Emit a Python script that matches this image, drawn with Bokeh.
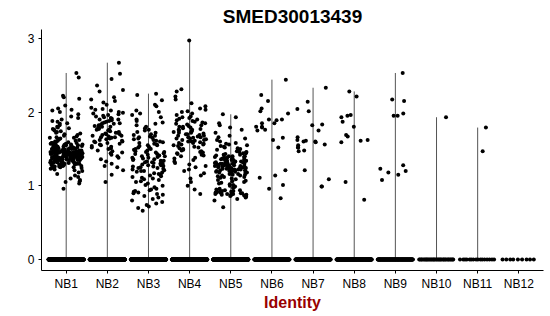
import math
from bokeh.plotting import figure
from bokeh.models import ColumnDataSource, Range1d, FixedTicker
from bokeh.embed import file_html
from bokeh.resources import INLINE

categories = ["NB1", "NB2", "NB3", "NB4", "NB5", "NB6", "NB7", "NB8", "NB9", "NB10", "NB11", "NB12"]
zero_counts = [420, 400, 380, 400, 420, 180, 160, 160, 120, 34, 16, 9]

nb1 = [2.53, 2.47, 2.22, 2.20, 2.18, 2.09, 2.05, 2.03, 2.02, 2.00, 1.97, 1.94, 1.92, 1.90, 1.88, 1.87,
       1.85, 1.84, 1.82, 1.80, 1.79, 1.78, 1.77, 1.76, 1.75, 1.74, 1.73, 1.72, 1.71, 1.70, 1.69,
       1.68, 1.67, 1.66, 1.65, 1.65, 1.64, 1.63, 1.63, 1.62, 1.61, 1.61, 1.60, 1.60, 1.59, 1.58, 1.58,
       1.57, 1.57, 1.56, 1.56, 1.55, 1.55, 1.54, 1.54, 1.53, 1.53, 1.53, 1.52, 1.52, 1.51, 1.51, 1.50,
       1.50, 1.50, 1.49, 1.49, 1.48, 1.48, 1.48, 1.47, 1.47, 1.46, 1.46, 1.46, 1.45, 1.45, 1.45, 1.44,
       1.44, 1.44, 1.43, 1.43, 1.43, 1.42, 1.42, 1.42, 1.41, 1.41, 1.41, 1.40, 1.40, 1.40, 1.39, 1.39,
       1.39, 1.38, 1.38, 1.38, 1.37, 1.37, 1.37, 1.36, 1.36, 1.36, 1.35, 1.35, 1.35, 1.34, 1.34, 1.34,
       1.33, 1.33, 1.32, 1.32, 1.32, 1.31, 1.31, 1.30, 1.30, 1.30, 1.29, 1.29, 1.28, 1.28, 1.27, 1.27,
       1.26, 1.26, 1.25, 1.25, 1.24, 1.24, 1.23, 1.22, 1.21, 1.20,
       1.30, 1.31, 1.33, 1.34, 1.35, 1.36, 1.37, 1.38, 1.39, 1.40, 1.41, 1.42, 1.43, 1.44, 1.45, 1.46,
       1.47, 1.48, 1.49, 1.50, 1.51, 1.52, 1.53, 1.54, 1.55, 1.56, 1.57, 1.58, 1.29, 1.31, 1.32, 1.34,
       1.35, 1.37, 1.38, 1.40, 1.41, 1.42, 1.43, 1.44, 1.45, 1.46, 1.47, 1.48, 1.50, 1.52, 1.54, 1.56,
       1.33, 1.36, 1.39, 1.41, 1.43, 1.45, 1.47, 1.49, 1.51, 1.53, 1.36, 1.38, 1.40, 1.42, 1.44, 1.46,
       1.39, 1.41, 1.43, 1.45,
       1.18, 1.16, 1.14, 1.12, 1.10, 1.08, 1.06, 1.05, 1.03, 0.96]
nb2 = [2.67, 2.52, 2.45, 2.36, 2.30, 2.28, 2.20, 2.17, 2.15, 2.13, 2.10, 2.06, 2.04, 2.03, 2.02, 2.00,
       1.99, 1.98, 1.97, 1.96, 1.95, 1.94, 1.93, 1.92, 1.91, 1.90, 1.90, 1.89, 1.88, 1.87, 1.86, 1.85,
       1.85, 1.84, 1.83, 1.82, 1.81, 1.80, 1.80, 1.79, 1.78, 1.77, 1.76, 1.76, 1.75, 1.74, 1.73, 1.72,
       1.72, 1.71, 1.70, 1.70, 1.69, 1.68, 1.68, 1.67, 1.66, 1.66, 1.65, 1.64, 1.63, 1.62, 1.61, 1.60,
       1.60, 1.59, 1.58, 1.57, 1.56, 1.55, 1.54, 1.53, 1.52, 1.51, 1.50, 1.48, 1.47, 1.45, 1.44, 1.42,
       1.40, 1.38, 1.36, 1.33, 1.30, 1.27, 1.25, 1.21, 1.15, 1.05]
nb3 = [2.25, 2.23, 2.16, 2.10, 2.08, 2.02, 2.00, 1.98, 1.96, 1.93, 1.90, 1.88, 1.86, 1.84, 1.82, 1.80,
       1.78, 1.76, 1.75, 1.73, 1.72, 1.70, 1.69, 1.68, 1.67, 1.66, 1.65, 1.64, 1.63, 1.62, 1.61, 1.60,
       1.59, 1.58, 1.57, 1.56, 1.55, 1.55, 1.54, 1.53, 1.52, 1.51, 1.50, 1.50, 1.49, 1.48, 1.47, 1.46,
       1.46, 1.45, 1.44, 1.43, 1.43, 1.42, 1.41, 1.40, 1.40, 1.39, 1.38, 1.38, 1.37, 1.36, 1.36, 1.35,
       1.34, 1.34, 1.33, 1.32, 1.32, 1.31, 1.30, 1.30, 1.29, 1.28, 1.28, 1.27, 1.26, 1.26, 1.25, 1.24,
       1.24, 1.23, 1.22, 1.21, 1.20, 1.20, 1.19, 1.18, 1.17, 1.16, 1.15, 1.14, 1.13, 1.12, 1.11, 1.10,
       1.09, 1.08, 1.06, 1.05, 1.03, 1.01, 1.00, 0.98, 0.96, 0.95, 0.94, 0.93, 0.92, 0.91, 0.90, 0.89,
       0.88, 0.86, 0.84, 0.82, 0.80, 0.78, 0.76, 0.74, 0.72, 0.70, 0.66]
nb4 = [2.97, 2.31, 2.28, 2.21, 2.17, 2.12, 2.08, 2.05, 2.03, 2.01, 2.00, 1.98, 1.96, 1.94, 1.93, 1.92,
       1.91, 1.90, 1.89, 1.88, 1.87, 1.86, 1.85, 1.84, 1.83, 1.82, 1.81, 1.80, 1.80, 1.79, 1.78, 1.77,
       1.76, 1.76, 1.75, 1.74, 1.73, 1.72, 1.72, 1.71, 1.70, 1.70, 1.69, 1.68, 1.68, 1.67, 1.66, 1.66,
       1.65, 1.64, 1.64, 1.63, 1.62, 1.62, 1.61, 1.60, 1.60, 1.59, 1.58, 1.58, 1.57, 1.56, 1.56, 1.55,
       1.54, 1.53, 1.52, 1.51, 1.50, 1.49, 1.48, 1.47, 1.46, 1.45, 1.44, 1.43, 1.42, 1.41, 1.40, 1.38,
       1.37, 1.35, 1.33, 1.31, 1.29, 1.27, 1.25, 1.22, 1.20, 1.17, 1.14, 1.10, 1.05, 1.00, 0.95, 0.89]
nb5 = [1.97, 1.93, 1.85, 1.82, 1.79, 1.76, 1.72, 1.68, 1.66, 1.64, 1.62, 1.60, 1.58, 1.57, 1.56, 1.55,
       1.54, 1.53, 1.52, 1.51, 1.50, 1.49, 1.48, 1.47, 1.46, 1.46, 1.45, 1.44, 1.44, 1.43, 1.42, 1.42,
       1.41, 1.40, 1.40, 1.39, 1.39, 1.38, 1.38, 1.37, 1.37, 1.36, 1.36, 1.35, 1.35, 1.34, 1.34, 1.33,
       1.33, 1.32, 1.32, 1.31, 1.31, 1.30, 1.30, 1.30, 1.29, 1.29, 1.28, 1.28, 1.27, 1.27, 1.26, 1.26,
       1.25, 1.25, 1.24, 1.24, 1.23, 1.23, 1.22, 1.22, 1.21, 1.21, 1.20, 1.20, 1.19, 1.18, 1.18, 1.17,
       1.16, 1.15, 1.14, 1.13, 1.12, 1.11, 1.10, 1.09, 1.08, 1.07, 1.06, 1.05, 1.04, 1.03, 1.02, 1.01,
       1.00, 0.99, 0.98, 0.97, 0.96, 0.95, 0.94, 0.93, 0.93, 0.92, 0.92, 0.91, 0.91, 0.90, 0.90, 0.89,
       0.89, 0.88, 0.88, 0.87, 0.86, 0.85, 0.84, 0.82, 0.80, 0.71,
       1.12, 1.14, 1.16, 1.18, 1.20, 1.22, 1.24, 1.26, 1.28, 1.30, 1.32, 1.34, 1.36, 1.38, 1.40, 1.15,
       1.19, 1.23, 1.27, 1.31, 1.35, 1.25, 1.29, 1.33, 1.21, 0.87, 0.88, 0.90, 0.91, 0.92, 0.94, 0.89,
       0.93]
nb6 = [2.44, 2.23, 2.15, 2.05, 2.01, 1.98, 1.90, 1.90, 1.85, 1.89, 1.85, 1.80, 1.80, 1.75, 1.79, 1.76,
       1.65, 1.62, 1.52, 1.21, 1.14, 1.11, 1.01, 0.96, 0.83]
nb7 = [2.33, 2.14, 2.04, 2.01, 1.82, 1.83, 1.75, 1.66, 1.60, 1.62, 1.61, 1.60, 1.59, 1.56, 1.52, 1.47,
       1.55, 1.52, 1.48, 1.21, 1.09, 0.99, 0.99]
nb8 = [2.28, 2.21, 1.93, 1.96, 1.95, 1.87, 1.80, 1.67, 1.69, 1.62, 1.59, 1.61, 1.05, 0.81]
nb9 = [2.53, 2.15, 2.17, 1.95, 1.95, 1.98, 1.28, 1.23, 1.20, 1.18, 1.15, 1.08]
nb10 = [1.93]
nb11 = [1.79, 1.47]
nb12 = []

groups = [nb1, nb2, nb3, nb4, nb5, nb6, nb7, nb8, nb9, nb10, nb11, nb12]


def spread(i, k):
    # deterministic hash in [0, 1) used only for horizontal jitter
    h = math.sin(i * 12.9898 + k * 78.233 + 1.7) * 43758.5453
    return h - math.floor(h)


xs, ys = [], []
for k, (vals, nz) in enumerate(zip(groups, zero_counts)):
    center = k + 1
    for i, v in enumerate(vals):
        xs.append(center + (spread(i, k) - 0.5) * 0.8)
        ys.append(v)
    for i in range(nz):
        # zero band: evenly spread across the jitter width
        xs.append(center + ((i + 0.5 * spread(i + 1000, k)) / nz - 0.5) * 0.86)
        ys.append(0.0)
pts = ColumnDataSource(dict(x=xs, y=ys))

# collapsed violins: thin line from 0 to group max
vx, vtop = [], []
for k, vals in enumerate(groups):
    if vals:
        vx.append(k + 1)
        vtop.append(max(vals))
vio = ColumnDataSource(dict(x=vx, y0=[0.0] * len(vx), y1=vtop))

FONT = "Liberation Sans"
p = figure(width=550, height=316, output_backend="svg", toolbar_location=None,
           x_range=Range1d(0.4, 12.6), y_range=Range1d(-0.149, 3.12),
           min_border_left=41, min_border_right=7, min_border_top=28, min_border_bottom=46)
p.outline_line_color = None
p.grid.visible = False
p.background_fill_color = "white"

p.segment(x0="x", y0="y0", x1="x", y1="y1", source=vio, line_color="#555555", line_width=1)
p.scatter(x="x", y="y", source=pts, size=4, fill_color="black", line_color=None)

p.title.text = "SMED30013439"
p.title.align = "center"
p.title.text_font = FONT
p.title.text_font_size = "19px"
p.title.text_font_style = "bold"
p.title.text_color = "black"
p.title.standoff = 6

p.xaxis.ticker = FixedTicker(ticks=list(range(1, 13)))
p.xaxis.major_label_overrides = {i + 1: c for i, c in enumerate(categories)}
p.yaxis.ticker = FixedTicker(ticks=[0, 1, 2, 3])
for ax in (p.xaxis, p.yaxis):
    ax.minor_tick_line_color = None
    ax.major_tick_in = 0
    ax.major_tick_out = 3
    ax.axis_line_color = "black"
    ax.axis_line_width = 1
    ax.major_tick_line_color = "black"
    ax.major_label_text_font = FONT
    ax.major_label_text_font_size = "12px"
    ax.major_label_text_color = "black"
p.xaxis.major_label_standoff = 3
p.yaxis.major_label_standoff = 4
p.xaxis.axis_label = "Identity"
p.xaxis.axis_label_text_font = FONT
p.xaxis.axis_label_text_font_size = "16px"
p.xaxis.axis_label_text_font_style = "bold"
p.xaxis.axis_label_text_color = "#990000"
p.xaxis.axis_label_standoff = 0

open("out.html", "w").write(file_html(p, INLINE))
